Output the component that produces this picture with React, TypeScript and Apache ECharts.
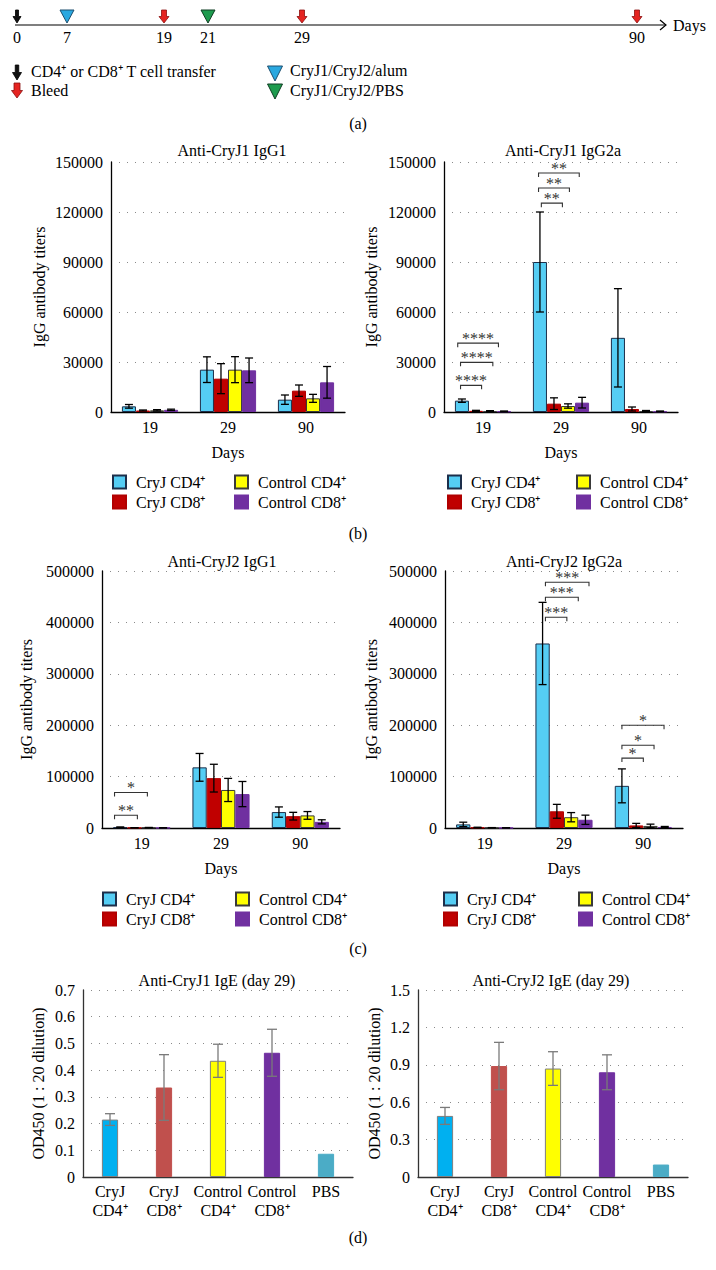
import React, { useEffect, useRef } from "react";
import * as echarts from "echarts";

const FONT = "Liberation Serif, Times New Roman, serif";

// ---------- (a) timeline ----------
const timelineDays = ["0", "7", "19", "21", "29", "90"];
const timelineEvents = ["transfer", "alum", "bleed", "pbs", "bleed", "bleed"];
const timelineLegend = [
  ["transfer", "CD4⁺ or CD8⁺ T cell transfer"],
  ["bleed", "Bleed"],
  ["alum", "CryJ1/CryJ2/alum"],
  ["pbs", "CryJ1/CryJ2/PBS"],
];

// ---------- (b), (c) ----------
const days = ["19", "29", "90"];
const groups = ["CryJ CD4⁺", "CryJ CD8⁺", "Control CD4⁺", "Control CD8⁺"];

// Anti-CryJ1 IgG1
const j1IgG1_CryjCD4 = [3400, 25400, 7400];
const j1IgG1_CryjCD4_err = [1100, 7700, 2800];
const j1IgG1_CryjCD8 = [900, 20000, 12800];
const j1IgG1_CryjCD8_err = [300, 9000, 3400];
const j1IgG1_CtrlCD4 = [1000, 25400, 8200];
const j1IgG1_CtrlCD4_err = [400, 7800, 2400];
const j1IgG1_CtrlCD8 = [1300, 25000, 17800];
const j1IgG1_CtrlCD8_err = [400, 7400, 9500];

// Anti-CryJ1 IgG2a
const j1IgG2a_CryjCD4 = [6800, 90000, 44500];
const j1IgG2a_CryjCD4_err = [1000, 30000, 29500];
const j1IgG2a_CryjCD8 = [700, 5000, 1800];
const j1IgG2a_CryjCD8_err = [300, 3500, 1200];
const j1IgG2a_CtrlCD4 = [500, 3600, 600];
const j1IgG2a_CtrlCD4_err = [300, 1300, 300];
const j1IgG2a_CtrlCD8 = [400, 5600, 400];
const j1IgG2a_CtrlCD8_err = [200, 3200, 200];
// [day index, from bar, to bar, height, label]
const j1IgG2a_sig: [number, number, number, number, string][] = [
  [0, -0.3, 2.6, 41300, "****"],
  [0, -0.1, 2.2, 29800, "****"],
  [0, -0.1, 1.4, 16000, "****"],
  [1, -0.1, 2.8, 143400, "**"],
  [1, -0.1, 2.1, 134400, "**"],
  [1, 0.1, 1.6, 125300, "**"],
];

// Anti-CryJ2 IgG1
const j2IgG1_CryjCD4 = [1500, 118000, 31000];
const j2IgG1_CryjCD4_err = [500, 27000, 10000];
const j2IgG1_CryjCD8 = [500, 97000, 23000];
const j2IgG1_CryjCD8_err = [200, 27000, 7500];
const j2IgG1_CtrlCD4 = [800, 74000, 24500];
const j2IgG1_CtrlCD4_err = [300, 22500, 7500];
const j2IgG1_CtrlCD8 = [300, 66000, 12000];
const j2IgG1_CtrlCD8_err = [200, 24500, 4000];
const j2IgG1_sig: [number, number, number, number, string][] = [
  [0, -0.4, 1.9, 69000, "*"],
  [0, -0.4, 1.2, 24700, "**"],
];

// Anti-CryJ2 IgG2a
const j2IgG2a_CryjCD4 = [7000, 359000, 82000];
const j2IgG2a_CryjCD4_err = [4300, 80000, 33000];
const j2IgG2a_CryjCD8 = [1000, 32500, 5000];
const j2IgG2a_CryjCD8_err = [500, 13500, 4000];
const j2IgG2a_CtrlCD4 = [500, 21000, 4000];
const j2IgG2a_CtrlCD4_err = [300, 9000, 3500];
const j2IgG2a_CtrlCD8 = [300, 16000, 2000];
const j2IgG2a_CtrlCD8_err = [200, 9000, 1000];
const j2IgG2a_sig: [number, number, number, number, string][] = [
  [1, 0.2, 3.25, 478000, "***"],
  [1, 0.2, 2.5, 449000, "***"],
  [1, 0.2, 1.7, 410000, "***"],
  [2, 0, 2.95, 200000, "*"],
  [2, 0, 2.25, 161000, "*"],
  [2, 0, 1.5, 136000, "*"],
];

// ---------- (d) ----------
const igeCategories = ["CryJ\nCD4⁺", "CryJ\nCD8⁺", "Control\nCD4⁺", "Control\nCD8⁺", "PBS"];
const j1IgE = [0.215, 0.335, 0.435, 0.465, 0.087];
const j1IgE_err = [0.022, 0.123, 0.062, 0.088, 0];
const j2IgE = [0.49, 0.89, 0.87, 0.84, 0.1];
const j2IgE_err = [0.068, 0.19, 0.135, 0.14, 0];

// ---------- styles / layout ----------
const groupColors = ["#55CDF4", "#C00000", "#FFFF00", "#7030A0"];
const groupBorders = ["#1C2E4A", "#B00000", "#3A3A3A", "#7030A0"];
const igeColors = ["#00B0F0", "#C0504D", "#FFFF00", "#7030A0", "#4BACC6"];
const igeBorders = ["#7F7F7F", "#C0504D", "#7F7F7F", "#7030A0", "#4BACC6"];

const BAR_FRAC = 0.18;

const bcPanels = [
  {
    title: "Anti-CryJ1 IgG1",
    means: [j1IgG1_CryjCD4, j1IgG1_CryjCD8, j1IgG1_CtrlCD4, j1IgG1_CtrlCD8],
    errs: [j1IgG1_CryjCD4_err, j1IgG1_CryjCD8_err, j1IgG1_CtrlCD4_err, j1IgG1_CtrlCD8_err],
    sig: [] as [number, number, number, number, string][],
    max: 150000,
    interval: 30000,
    grid: { left: 111, top: 162, width: 234, height: 250 },
    titlePos: [232, 150],
    nameGap: 64,
    legendTop: 474,
    legendLeft: [112, 234],
  },
  {
    title: "Anti-CryJ1 IgG2a",
    means: [j1IgG2a_CryjCD4, j1IgG2a_CryjCD8, j1IgG2a_CtrlCD4, j1IgG2a_CtrlCD8],
    errs: [j1IgG2a_CryjCD4_err, j1IgG2a_CryjCD8_err, j1IgG2a_CtrlCD4_err, j1IgG2a_CtrlCD8_err],
    sig: j1IgG2a_sig,
    max: 150000,
    interval: 30000,
    grid: { left: 444, top: 162, width: 234, height: 250 },
    titlePos: [563, 150],
    nameGap: 65,
    legendTop: 474,
    legendLeft: [447, 576],
  },
  {
    title: "Anti-CryJ2 IgG1",
    means: [j2IgG1_CryjCD4, j2IgG1_CryjCD8, j2IgG1_CtrlCD4, j2IgG1_CtrlCD8],
    errs: [j2IgG1_CryjCD4_err, j2IgG1_CryjCD8_err, j2IgG1_CtrlCD4_err, j2IgG1_CtrlCD8_err],
    sig: j2IgG1_sig,
    max: 500000,
    interval: 100000,
    grid: { left: 102, top: 571, width: 238, height: 257 },
    titlePos: [222, 561],
    nameGap: 68,
    legendTop: 891,
    legendLeft: [102, 235],
  },
  {
    title: "Anti-CryJ2 IgG2a",
    means: [j2IgG2a_CryjCD4, j2IgG2a_CryjCD8, j2IgG2a_CtrlCD4, j2IgG2a_CtrlCD8],
    errs: [j2IgG2a_CryjCD4_err, j2IgG2a_CryjCD8_err, j2IgG2a_CtrlCD4_err, j2IgG2a_CtrlCD8_err],
    sig: j2IgG2a_sig,
    max: 500000,
    interval: 100000,
    grid: { left: 445, top: 571, width: 238, height: 257 },
    titlePos: [564, 561],
    nameGap: 66,
    legendTop: 891,
    legendLeft: [443, 578],
  },
];

const dPanels = [
  {
    title: "Anti-CryJ1 IgE (day 29)",
    means: j1IgE,
    errs: j1IgE_err,
    max: 0.7,
    interval: 0.1,
    grid: { left: 83, top: 990, width: 270, height: 187 },
    titlePos: [217, 980],
    nameGap: 37,
  },
  {
    title: "Anti-CryJ2 IgE (day 29)",
    means: j2IgE,
    errs: j2IgE_err,
    max: 1.5,
    interval: 0.3,
    grid: { left: 418, top: 990, width: 270, height: 187 },
    titlePos: [551, 980],
    nameGap: 36,
  },
];

function errRender(frac: number, nBars: number, cap: number, color: string) {
  return (params: any, api: any) => {
    const cat = api.value(0);
    const k = api.value(1);
    const lo = api.value(2);
    const hi = api.value(3);
    const band = api.size([1, 0])[0];
    const bw = band * frac;
    const pHi = api.coord([cat, hi]);
    const pLo = api.coord([cat, lo]);
    const x = pHi[0] + (k - (nBars - 1) / 2) * bw;
    const style = { stroke: color, lineWidth: 1.3 };
    return {
      type: "group",
      children: [
        { type: "line", shape: { x1: x, y1: pHi[1], x2: x, y2: pLo[1] }, style },
        { type: "line", shape: { x1: x - cap, y1: pHi[1], x2: x + cap, y2: pHi[1] }, style },
        { type: "line", shape: { x1: x - cap, y1: pLo[1], x2: x + cap, y2: pLo[1] }, style },
      ],
    };
  };
}

function sigRender(labels: string[]) {
  return (params: any, api: any) => {
    const cat = api.value(0);
    const from = api.value(1);
    const to = api.value(2);
    const yv = api.value(3);
    const band = api.size([1, 0])[0];
    const bw = band * BAR_FRAC;
    const p = api.coord([cat, yv]);
    const x1 = p[0] + (from - 1.5) * bw;
    const x2 = p[0] + (to - 1.5) * bw;
    const y = p[1];
    return {
      type: "group",
      children: [
        {
          type: "polyline",
          shape: { points: [[x1, y + 4], [x1, y], [x2, y], [x2, y + 4]] },
          style: { stroke: "#333", lineWidth: 1.1, fill: null },
        },
        {
          type: "text",
          x: (x1 + x2) / 2,
          y: y + 3,
          style: {
            text: labels[params.dataIndex],
            align: "center",
            verticalAlign: "bottom",
            fontSize: 16,
            fontFamily: FONT,
            fill: "#333",
          },
        },
      ],
    };
  };
}

function downArrow(cx: number, top: number, h: number, headW: number, shaftW: number, fill: string, stroke: string) {
  const mid = top + h * 0.5;
  return {
    type: "polygon",
    shape: {
      points: [
        [cx - shaftW / 2, top],
        [cx + shaftW / 2, top],
        [cx + shaftW / 2, mid],
        [cx + headW / 2, mid],
        [cx, top + h],
        [cx - headW / 2, mid],
        [cx - shaftW / 2, mid],
      ],
    },
    style: { fill, stroke, lineWidth: 0.8 },
  };
}

function triangle(cx: number, top: number, w: number, h: number, fill: string, stroke: string) {
  return {
    type: "polygon",
    shape: { points: [[cx - w / 2, top], [cx + w / 2, top], [cx, top + h]] },
    style: { fill, stroke, lineWidth: 1 },
  };
}

function marker(kind: string, cx: number, top: number, big: boolean) {
  const h = big ? 15 : 13;
  if (kind === "transfer") return downArrow(cx, top, h, big ? 9 : 8, big ? 3.5 : 3, "#111", "#000");
  if (kind === "bleed") return downArrow(cx, top, h, big ? 11 : 10, big ? 6 : 5, "#E52421", "#8A1010");
  if (kind === "alum") return triangle(cx, top, big ? 15 : 14, h, "#2AA8E0", "#1D4E6E");
  return triangle(cx, top, big ? 15 : 14, h, "#1E9B4E", "#0F3D22");
}

const TIMELINE_X = [17, 67, 164, 208, 302, 637];

function buildOption() {
  const grids: any[] = [];
  const xAxes: any[] = [];
  const yAxes: any[] = [];
  const series: any[] = [];
  const legends: any[] = [];
  const graphics: any[] = [];

  const txt = (x: number, y: number, text: string, align = "center", size = 16) => ({
    type: "text",
    x,
    y,
    style: {
      text,
      fontSize: size,
      fontFamily: FONT,
      fill: "#000",
      align,
      verticalAlign: "middle",
    },
  });

  const axisText = { fontFamily: FONT, fontSize: 16, color: "#000" };
  const split = { show: true, lineStyle: { color: "#8a8a8a", type: [1, 7], width: 1 } };

  bcPanels.forEach((p, gi) => {
    grids.push({ ...p.grid });
    xAxes.push({
      type: "category",
      gridIndex: gi,
      data: days,
      axisLine: { lineStyle: { color: "#000", width: 1.3 } },
      axisTick: { show: false },
      axisLabel: { ...axisText, margin: 7 },
      name: "Days",
      nameLocation: "middle",
      nameGap: 32,
      nameTextStyle: axisText,
    });
    yAxes.push({
      type: "value",
      gridIndex: gi,
      min: 0,
      max: p.max,
      interval: p.interval,
      axisLine: { show: true, lineStyle: { color: "#000", width: 1.3 } },
      axisTick: { show: false },
      axisLabel: { ...axisText, margin: 8, formatter: (v: number) => String(v) },
      splitLine: split,
      name: "IgG antibody titers",
      nameLocation: "middle",
      nameGap: p.nameGap,
      nameTextStyle: axisText,
    });
    p.means.forEach((m, k) => {
      series.push({
        type: "bar",
        name: groups[k],
        xAxisIndex: gi,
        yAxisIndex: gi,
        data: m,
        barWidth: BAR_FRAC * 100 + "%",
        barGap: "0%",
        itemStyle: { color: groupColors[k], borderColor: groupBorders[k], borderWidth: 1 },
        z: 2,
      });
    });
    const errData: number[][] = [];
    p.means.forEach((m, k) =>
      m.forEach((v, c) => errData.push([c, k, Math.max(0, v - p.errs[k][c]), v + p.errs[k][c]]))
    );
    series.push({
      type: "custom",
      xAxisIndex: gi,
      yAxisIndex: gi,
      data: errData,
      encode: { x: 0, y: [2, 3] },
      renderItem: errRender(BAR_FRAC, 4, 4, "#000"),
      itemStyle: { color: "#000" },
      z: 5,
      silent: true,
    });
    if (p.sig.length) {
      series.push({
        type: "custom",
        xAxisIndex: gi,
        yAxisIndex: gi,
        data: p.sig.map((s) => [s[0], s[1], s[2], s[3]]),
        encode: { x: 0, y: 3 },
        renderItem: sigRender(p.sig.map((s) => s[4])),
        itemStyle: { color: "#333" },
        z: 6,
        silent: true,
      });
    }
    [0, 1].forEach((col) => {
      legends.push({
        orient: "vertical",
        left: p.legendLeft[col],
        top: p.legendTop,
        padding: 0,
        itemGap: 4,
        itemWidth: 13,
        itemHeight: 13,
        icon: "rect",
        selectedMode: false,
        data: [groups[col * 2], groups[col * 2 + 1]],
        textStyle: { ...axisText, padding: [0, 0, 0, 5] },
      });
    });
    graphics.push(txt(p.titlePos[0], p.titlePos[1], p.title));
  });

  dPanels.forEach((p, di) => {
    const gi = bcPanels.length + di;
    grids.push({ ...p.grid });
    xAxes.push({
      type: "category",
      gridIndex: gi,
      data: igeCategories,
      axisLine: { lineStyle: { color: "#333", width: 1.3 } },
      axisTick: { show: false },
      axisLabel: { ...axisText, margin: 5, lineHeight: 19, interval: 0 },
    });
    yAxes.push({
      type: "value",
      gridIndex: gi,
      min: 0,
      max: p.max,
      interval: p.interval,
      axisLine: { show: true, lineStyle: { color: "#333", width: 1.3 } },
      axisTick: { show: false },
      axisLabel: {
        ...axisText,
        margin: 8,
        formatter: (v: number) => (v === 0 ? "0" : v.toFixed(1)),
      },
      splitLine: split,
      name: "OD450 (1 : 20 dilution)",
      nameLocation: "middle",
      nameGap: p.nameGap,
      nameTextStyle: axisText,
    });
    series.push({
      type: "bar",
      xAxisIndex: gi,
      yAxisIndex: gi,
      barWidth: "30%",
      data: p.means.map((v, i) => ({
        value: v,
        itemStyle: { color: igeColors[i], borderColor: igeBorders[i], borderWidth: 1 },
      })),
      z: 2,
    });
    const errData: number[][] = [];
    p.means.forEach((v, i) => {
      if (p.errs[i] > 0) errData.push([i, 0, v - p.errs[i], v + p.errs[i]]);
    });
    series.push({
      type: "custom",
      xAxisIndex: gi,
      yAxisIndex: gi,
      data: errData,
      encode: { x: 0, y: [2, 3] },
      renderItem: errRender(0.3, 1, 5, "#7A7A7A"),
      itemStyle: { color: "#7A7A7A" },
      z: 5,
      silent: true,
    });
    graphics.push(txt(p.titlePos[0], p.titlePos[1], p.title));
  });

  // ---- timeline (a) ----
  graphics.push({
    type: "line",
    shape: { x1: 15, y1: 25, x2: 666, y2: 25 },
    style: { stroke: "#000", lineWidth: 1.2 },
  });
  graphics.push({
    type: "polyline",
    shape: { points: [[660, 20], [666, 25], [660, 30]] },
    style: { stroke: "#000", lineWidth: 1.2, fill: null },
  });
  graphics.push(txt(673, 25, "Days", "left"));
  timelineDays.forEach((d, i) => {
    graphics.push(marker(timelineEvents[i], TIMELINE_X[i], 10, false));
    graphics.push(txt(TIMELINE_X[i], 37, d));
  });
  const legPos = [
    [17, 65, 31, 71],
    [17, 83, 31, 90],
    [275, 66, 290, 70],
    [275, 84, 290, 90],
  ];
  timelineLegend.forEach(([kind, label], i) => {
    const [mx, my, tx, ty] = legPos[i];
    graphics.push(marker(kind, mx, my, true));
    graphics.push(txt(tx, ty, label, "left"));
  });

  // panel labels
  graphics.push(txt(358, 123, "(a)"));
  graphics.push(txt(358, 533, "(b)"));
  graphics.push(txt(358, 948, "(c)"));
  graphics.push(txt(358, 1237, "(d)"));

  return {
    animation: false,
    backgroundColor: "#fff",
    textStyle: { fontFamily: FONT },
    grid: grids,
    xAxis: xAxes,
    yAxis: yAxes,
    legend: legends,
    series,
    graphic: graphics,
  };
}

export default function App() {
  const ref = useRef<HTMLDivElement>(null);
  useEffect(() => {
    if (!ref.current) return;
    const chart = echarts.init(ref.current, undefined, { renderer: "svg" });
    chart.setOption(buildOption() as any);
    return () => chart.dispose();
  }, []);
  return (
    <div
      ref={ref}
      style={{ position: "absolute", left: 0, top: 0, width: 716, height: 1270, background: "#fff" }}
    />
  );
}
